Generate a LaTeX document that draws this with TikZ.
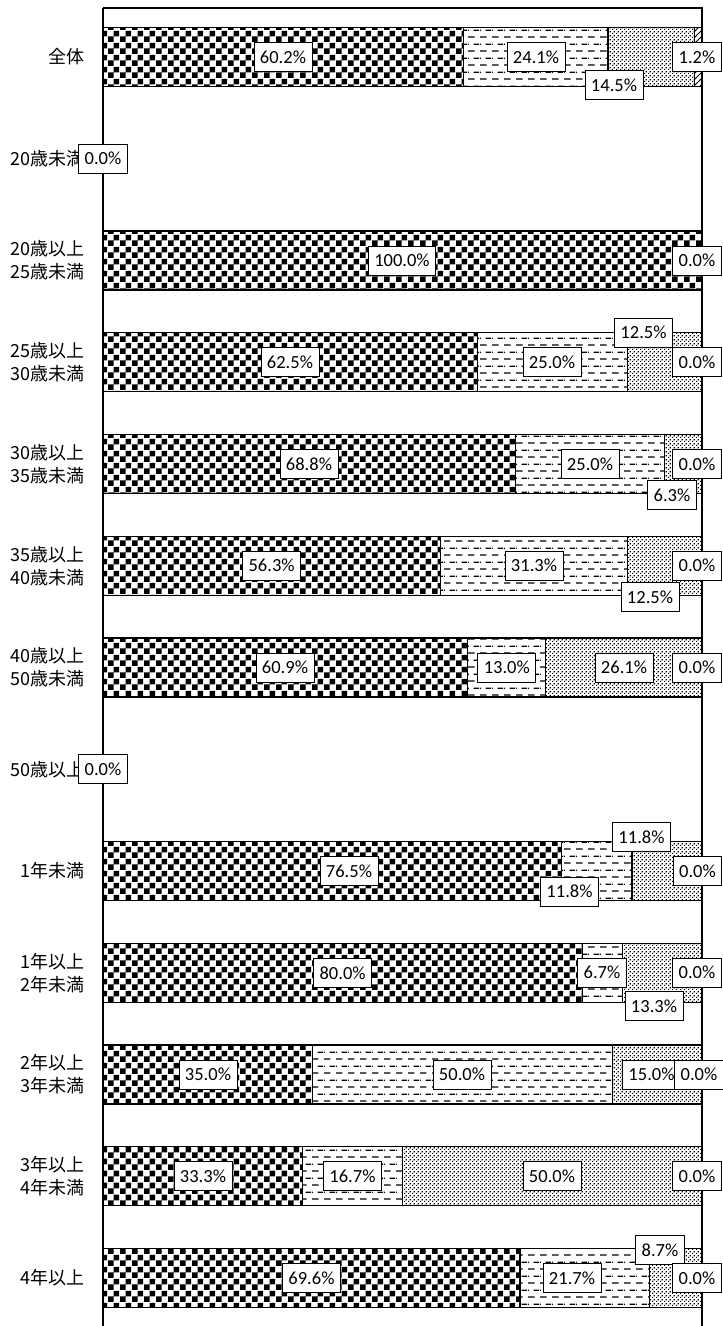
\documentclass[tikz,border=0pt]{standalone}
\usepackage{fontspec}
\setmainfont{Carlito}
\newfontfamily\jp{Noto Sans CJK JP}
\usetikzlibrary{patterns}
\pgfdeclarepatternformonly{checker}{\pgfpointorigin}{\pgfpoint{12pt}{12pt}}{\pgfpoint{12pt}{12pt}}{%
 \pgfpathrectangle{\pgfpointorigin}{\pgfpoint{6pt}{6pt}}%
 \pgfpathrectangle{\pgfpoint{6pt}{6pt}}{\pgfpoint{6pt}{6pt}}%
 \pgfusepath{fill}}
\pgfdeclarepatternformonly{hdash}{\pgfpointorigin}{\pgfpoint{12pt}{14pt}}{\pgfpoint{12pt}{14pt}}{%
 \pgfpathrectangle{\pgfpoint{0pt}{0.5pt}}{\pgfpoint{7pt}{1.3pt}}%
 \pgfpathrectangle{\pgfpoint{6pt}{7.5pt}}{\pgfpoint{6pt}{1.3pt}}%
 \pgfpathrectangle{\pgfpoint{0pt}{7.5pt}}{\pgfpoint{1pt}{1.3pt}}%
 \pgfusepath{fill}}
\pgfdeclarepatternformonly{fdots}{\pgfpointorigin}{\pgfpoint{4pt}{4pt}}{\pgfpoint{4pt}{4pt}}{%
 \pgfpathrectangle{\pgfpointorigin}{\pgfpoint{1.5pt}{1.5pt}}%
 \pgfpathrectangle{\pgfpoint{2pt}{2pt}}{\pgfpoint{1.5pt}{1.5pt}}%
 \pgfusepath{fill}}
\pgfdeclarepatternformonly{dhatch}{\pgfpoint{-1pt}{-1pt}}{\pgfpoint{7pt}{7pt}}{\pgfpoint{6pt}{6pt}}{%
 \pgfsetlinewidth{0.9pt}%
 \pgfpathmoveto{\pgfpoint{0pt}{0pt}}\pgfpathlineto{\pgfpoint{6.1pt}{6.1pt}}%
 \pgfusepath{stroke}}
\tikzset{
 barline/.style={draw=black,line width=1.2pt},
 lbl/.style={draw=black,fill=white,line width=0.9pt,inner xsep=6pt,inner ysep=0pt,minimum height=29pt,font=\fontsize{18.5}{22}\selectfont},
 cat/.style={anchor=east,align=right,inner sep=0pt,font=\jp\fontsize{18}{23}\selectfont},
 frame/.style={draw=black,line width=1.2pt}
}
\newcommand\mybar[5]{%
 \pgfmathsetmacro\xa{103+5.99*#2}%
 \pgfmathsetmacro\xb{\xa+5.99*#3}%
 \pgfmathsetmacro\xc{min(\xb+5.99*#4,702)}%
 \draw[barline,pattern=checker] (103,#1-29.5) rectangle (\xa,#1+29.5);
 \ifdim #3pt>0pt \draw[barline,pattern=hdash] (\xa,#1-29.5) rectangle (\xb,#1+29.5);\fi
 \ifdim #4pt>0pt \draw[barline,pattern=fdots] (\xb,#1-29.5) rectangle (\xc,#1+29.5);\fi
 \ifdim #5pt>0pt \draw[barline,pattern=dhatch] (\xc,#1-29.5) rectangle (702,#1+29.5);\fi
}
\begin{document}
\begin{tikzpicture}[x=1pt,y=-1pt]
\useasboundingbox (0,0) rectangle (723,1326);
% frame
\draw[frame] (103,8) -- (702,8) -- (702,1326);
\draw[frame,line width=1.7pt] (103,1326) -- (103,8);
% bars
\mybar{57}{60.2}{24.1}{14.5}{1.2}
\mybar{260.5}{100}{0}{0}{0}
\mybar{362.25}{62.5}{25.0}{12.5}{0}
\mybar{464}{68.8}{25.0}{6.3}{0}
\mybar{565.75}{56.3}{31.3}{12.5}{0}
\mybar{667.5}{60.9}{13.0}{26.1}{0}
\mybar{871}{76.5}{11.8}{11.8}{0}
\mybar{972.75}{80.0}{6.7}{13.3}{0}
\mybar{1074.5}{35.0}{50.0}{15.0}{0}
\mybar{1176.25}{33.3}{16.7}{50.0}{0}
\mybar{1278}{69.6}{21.7}{8.7}{0}
% category labels
\node[cat] (c0) at (85,57) {全体};
\node[cat] (c1) at (85,158.75) {20歳未満};
\node[cat] (c2) at (85,260.5) {20歳以上\\25歳未満};
\node[cat] (c3) at (85,362.25) {25歳以上\\30歳未満};
\node[cat] (c4) at (85,464) {30歳以上\\35歳未満};
\node[cat] (c5) at (85,565.75) {35歳以上\\40歳未満};
\node[cat] (c6) at (85,667.5) {40歳以上\\50歳未満};
\node[cat] (c7) at (85,769.25) {50歳以上};
\node[cat] (c8) at (85,871) {1年未満};
\node[cat] (c9) at (85,972.75) {1年以上\\2年未満};
\node[cat] (c10) at (85,1074.5) {2年以上\\3年未満};
\node[cat] (c11) at (85,1176.25) {3年以上\\4年未満};
\node[cat] (c12) at (85,1278) {4年以上};
% value labels
\node[lbl] (v0a) at (283,57) {60.2\%};
\node[lbl] (v0b) at (536,57) {24.1\%};
\node[lbl] (v0c) at (614,85) {14.5\%};
\node[lbl] (v0d) at (697,57) {1.2\%};
\node[lbl] (v1a) at (103,158.75) {0.0\%};
\node[lbl] (v2a) at (402,260.5) {100.0\%};
\node[lbl] (v2d) at (697,260.5) {0.0\%};
\node[lbl] (v3a) at (290,362.25) {62.5\%};
\node[lbl] (v3b) at (552,362.25) {25.0\%};
\node[lbl] (v3c) at (643.5,332.5) {12.5\%};
\node[lbl] (v3d) at (697,362.25) {0.0\%};
\node[lbl] (v4a) at (309,464) {68.8\%};
\node[lbl] (v4b) at (590,464) {25.0\%};
\node[lbl] (v4c) at (672,495) {6.3\%};
\node[lbl] (v4d) at (697,464) {0.0\%};
\node[lbl] (v5a) at (271.6,565.75) {56.3\%};
\node[lbl] (v5b) at (534,565.75) {31.3\%};
\node[lbl] (v5c) at (650,597) {12.5\%};
\node[lbl] (v5d) at (697,565.75) {0.0\%};
\node[lbl] (v6a) at (285,667.5) {60.9\%};
\node[lbl] (v6b) at (506.8,667.5) {13.0\%};
\node[lbl] (v6c) at (624,667.5) {26.1\%};
\node[lbl] (v6d) at (697,667.5) {0.0\%};
\node[lbl] (v7a) at (103,769.25) {0.0\%};
\node[lbl] (v8a) at (349,871) {76.5\%};
\node[lbl] (v8b) at (569.5,891.5) {11.8\%};
\node[lbl] (v8c) at (641.5,837) {11.8\%};
\node[lbl] (v8d) at (697.5,871) {0.0\%};
\node[lbl] (v9a) at (342.6,972.75) {80.0\%};
\node[lbl] (v9b) at (602,972.75) {6.7\%};
\node[lbl] (v9c) at (654,1006) {13.3\%};
\node[lbl] (v9d) at (697,972.75) {0.0\%};
\node[lbl] (v10a) at (208,1074.5) {35.0\%};
\node[lbl] (v10b) at (462,1074.5) {50.0\%};
\node[lbl] (v10c) at (651.5,1074.5) {15.0\%};
\node[lbl] (v10d) at (699,1074.5) {0.0\%};
\node[lbl] (v11a) at (203,1176.25) {33.3\%};
\node[lbl] (v11b) at (352.5,1176.25) {16.7\%};
\node[lbl] (v11c) at (552,1176.25) {50.0\%};
\node[lbl] (v11d) at (697,1176.25) {0.0\%};
\node[lbl] (v12a) at (311.5,1278) {69.6\%};
\node[lbl] (v12b) at (572,1278) {21.7\%};
\node[lbl] (v12c) at (660,1250) {8.7\%};
\node[lbl] (v12d) at (697,1278) {0.0\%};
\end{tikzpicture}
\end{document}
